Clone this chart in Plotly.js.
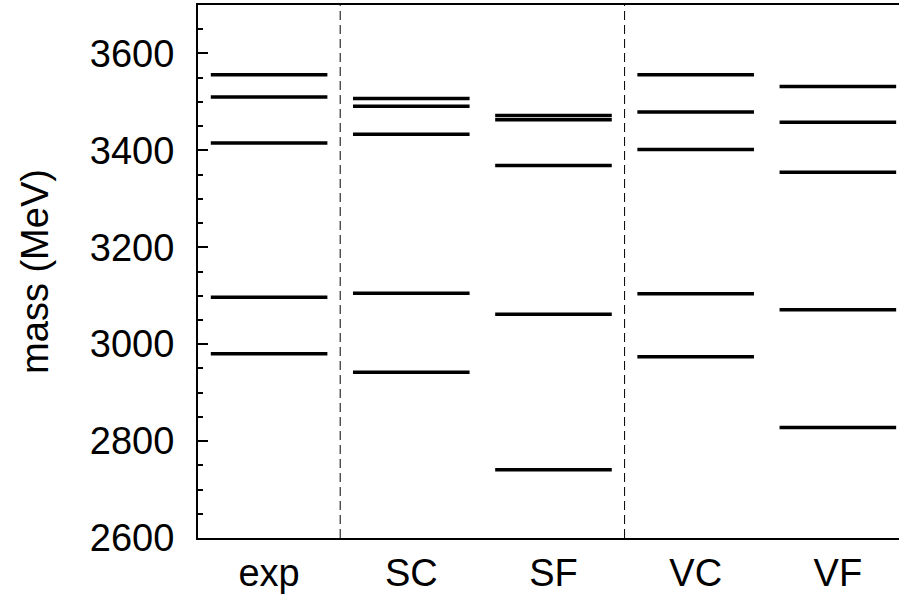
<!DOCTYPE html>
<html>
<head>
<meta charset="utf-8">
<script src="https://cdn.plot.ly/plotly-3.0.1.min.js"></script>
<style>html,body{margin:0;padding:0;background:#fff;}#chart{width:899px;height:597px;}</style>
</head>
<body>
<div id="chart"></div>
<script>
// Categories (models) and their mass levels in MeV
var categories = ["exp", "SC", "SF", "VC", "VF"];
var expLevels = [2980, 3097, 3415, 3510, 3556];
var scLevels  = [2942, 3105, 3433, 3491, 3507];
var sfLevels  = [2741, 3062, 3369, 3463, 3472];
var vcLevels  = [2974, 3104, 3402, 3479, 3556];
var vfLevels  = [2828, 3071, 3355, 3458, 3532];
var yTickVals = [2600, 2800, 3000, 3200, 3400, 3600];
var dividersAfter = ["exp", "SF"]; // dashed separators after these categories

var allLevels = [expLevels, scLevels, sfLevels, vcLevels, vfLevels];
var halfW = 0.41;

var traces = allLevels.map(function (levels, i) {
  var pos = i + 1, xs = [], ys = [];
  levels.forEach(function (v) {
    xs.push(pos - halfW, pos + halfW, null);
    ys.push(v, v, null);
  });
  return {
    type: "scatter", mode: "lines", x: xs, y: ys,
    line: {color: "#000", width: 3.5},
    hoverinfo: "skip", showlegend: false, name: categories[i]
  };
});

var shapes = dividersAfter.map(function (c) {
  var xp = categories.indexOf(c) + 1.5;
  return {type: "line", xref: "x", yref: "paper", x0: xp, x1: xp, y0: 0, y1: 1,
          line: {color: "#000", width: 1, dash: "9px,5px"}};
});

var font = {family: "Liberation Sans, Arial, sans-serif", size: 38, color: "#000"};

var layout = {
  width: 899, height: 597,
  margin: {l: 198, r: 0, t: 5, b: 58.5},
  paper_bgcolor: "#fff", plot_bgcolor: "#fff",
  font: font,
  showlegend: false,
  shapes: shapes,
  xaxis: {
    range: [0.5, 5.43],
    tickvals: categories.map(function (c, i) { return i + 1; }),
    ticktext: categories,
    ticks: "", showgrid: false, zeroline: false,
    showline: true, linecolor: "#000", linewidth: 2, mirror: true,
    tickfont: font, ticklabelstandoff: 0
  },
  yaxis: {
    range: [2600, 3700],
    tickvals: yTickVals,
    ticks: "inside", ticklen: 10, tickwidth: 2, tickcolor: "#000",
    minor: {dtick: 50, tick0: 2600, ticks: "inside", ticklen: 5, tickwidth: 2, tickcolor: "#000", showgrid: false},
    showgrid: false, zeroline: false,
    showline: true, linecolor: "#000", linewidth: 2, mirror: false,
    tickfont: font, ticklabelstandoff: 14,
    title: {text: "mass (MeV)", font: font, standoff: 30}
  }
};

Plotly.newPlot("chart", traces, layout, {staticPlot: true, displayModeBar: false});
</script>
</body>
</html>
